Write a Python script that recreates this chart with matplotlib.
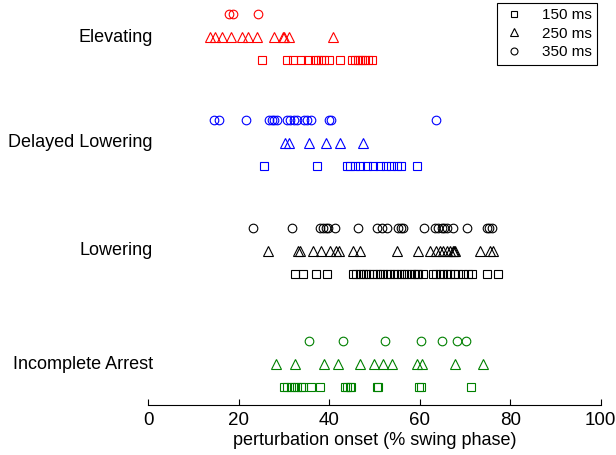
import numpy as np
import matplotlib
matplotlib.use('Agg')
import matplotlib.pyplot as plt
from matplotlib.lines import Line2D

plt.rcParams['font.family'] = ['Liberation Sans', 'DejaVu Sans']

categories = ['Elevating', 'Delayed Lowering', 'Lowering', 'Incomplete Arrest']
colors = ['#ff0000', '#0000ff', '#000000', '#008000']

# onset values (% swing phase) per category, for 350 / 250 / 150 ms
elev_350 = [17.9, 18.8, 24.3]
elev_250 = [13.6, 14.7, 16.4, 18.3, 20.8, 22.1, 24.1, 27.8, 29.7, 30.1, 31.2, 40.8]
elev_150 = [25.1, 30.6, 32.1, 33.8, 35.4, 36.8, 37.6, 38.2, 38.8, 39.9, 42.4,
            45.0, 45.7, 46.3, 46.7, 47.2, 47.9, 48.6, 49.5]

dl_350 = [14.5, 15.6, 21.6, 26.7, 27.3, 27.9, 28.5, 30.6, 31.3, 32.2, 32.8,
          34.4, 35.0, 36.0, 39.9, 40.5, 63.7]
dl_250 = [30.2, 31.2, 35.5, 39.2, 42.4, 47.5]
dl_150 = [25.6, 37.2, 44.0, 44.7, 45.7, 46.8, 48.3, 49.7, 51.2, 52.5, 53.6,
          54.9, 55.9, 59.5]

low_350 = [23.2, 31.8, 38.0, 38.7, 39.3, 39.8, 41.3, 46.4, 50.6, 51.6, 52.7,
           55.3, 55.8, 56.4, 61.0, 63.4, 64.1, 64.9, 65.4, 66.1, 67.4, 70.4,
           74.8, 75.4, 75.9]
low_250 = [26.5, 33.2, 33.5, 36.5, 38.1, 40.2, 41.5, 42.2, 45.3, 46.8, 54.9,
           59.7, 62.3, 63.7, 64.5, 65.2, 66.0, 66.7, 67.3, 67.6, 67.9, 73.3,
           75.5, 76.3]
low_150 = [32.4, 34.1, 37.1, 39.4, 45.2, 45.9, 46.8, 47.5, 48.1, 48.9, 49.7,
           50.5, 51.2, 51.9, 52.7, 53.4, 54.3, 55.0, 55.8, 56.5, 57.3, 58.0,
           58.7, 59.5, 59.7, 60.8, 63.0, 63.7, 64.5, 65.2, 66.0, 66.7, 67.6,
           68.5, 69.6, 70.7, 71.6, 74.8, 77.2]

ia_350 = [35.5, 43.0, 52.3, 60.3, 64.9, 68.2, 70.2]
ia_250 = [28.2, 32.4, 38.8, 41.9, 46.9, 50.0, 51.9, 53.9, 59.3, 60.6, 67.9, 74.1]
ia_150 = [30.0, 30.7, 31.5, 32.2, 32.9, 33.7, 34.3, 35.9, 38.0, 43.5, 44.0,
          44.6, 44.9, 50.5, 50.8, 59.9, 60.2, 71.4]

data = [(elev_350, elev_250, elev_150),
        (dl_350, dl_250, dl_150),
        (low_350, low_250, low_150),
        (ia_350, ia_250, ia_150)]

# row centres for each category (layout)
ypos = [4.0, 3.03, 2.04, 1.0]

fig = plt.figure(figsize=(6.16, 4.55), dpi=100)
ax = fig.add_axes([0.2407, 0.1099, 0.7344, 0.8901])

off = 0.211
for i, (d350, d250, d150) in enumerate(data):
    yc = ypos[i]
    c = colors[i]
    ax.plot(d350, np.full(len(d350), yc + off), 'o', mfc='none', mec=c, ms=6.2, mew=0.8)
    ax.plot(d250, np.full(len(d250), yc), '^', mfc='none', mec=c, ms=6.5, mew=0.8)
    ax.plot(d150, np.full(len(d150), yc - off), 's', mfc='none', mec=c, ms=5.8, mew=0.8)
    ax.text(1.0, yc, categories[i], ha='right', va='center', fontsize=13, clip_on=False)

ax.set_xlim(0, 100)
ax.set_ylim(0.627, 4.341)
ax.set_xticks([0, 20, 40, 60, 80, 100])
ax.set_yticks([])
for s in ['top', 'right', 'left']:
    ax.spines[s].set_visible(False)
ax.spines['bottom'].set_linewidth(0.8)
ax.tick_params(axis='x', direction='in', length=4, width=0.8, labelsize=13.5, pad=5)
ax.set_xlabel('perturbation onset (% swing phase)', fontsize=13, labelpad=2)

handles = [Line2D([], [], ls='none', marker='s', mfc='none', mec='k', ms=5, mew=0.8),
           Line2D([], [], ls='none', marker='^', mfc='none', mec='k', ms=5.5, mew=0.8),
           Line2D([], [], ls='none', marker='o', mfc='none', mec='k', ms=5, mew=0.8)]
leg = ax.legend(handles, ['150 ms', '250 ms', '350 ms'], loc='upper right',
                bbox_to_anchor=(0.992, 0.993), fontsize=11, fancybox=False,
                framealpha=1, edgecolor='k', handlelength=1.6, handletextpad=1.0,
                borderpad=0.35, labelspacing=0.3, borderaxespad=0)
leg.get_frame().set_linewidth(0.8)

fig.savefig('out.png', dpi=100)
